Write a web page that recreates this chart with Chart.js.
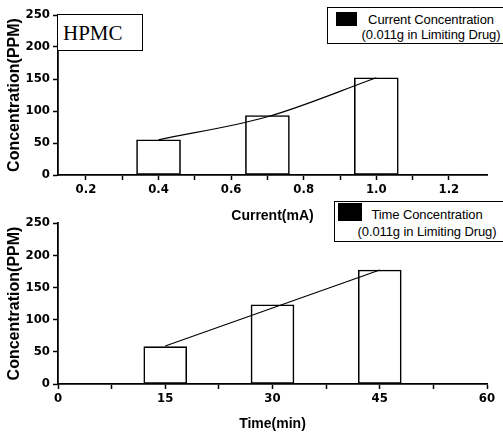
<!DOCTYPE html>
<html>
<head>
<meta charset="utf-8">
<script src="https://cdn.jsdelivr.net/npm/chart.js@4.4.1/dist/chart.umd.min.js"></script>
<style>
  html, body { margin: 0; padding: 0; background: #fff; overflow: hidden; }
  #wrap { position: relative; width: 503px; height: 434px; overflow: hidden; }
  canvas { position: absolute; left: 0; }
  #topChart { top: 0; }
  #bottomChart { top: 195px; }
  .box { position: absolute; border: 1.5px solid #000; background: #fff; color: #000; z-index: 2; }
  .legend { font-family: 'Liberation Sans', Arial, sans-serif; font-size: 13px; letter-spacing: -0.1px; }
  .legend .swatch { position: absolute; background: #000; }
  .legend .txt { position: absolute; text-align: center; white-space: nowrap; }
  #hpmc { left: 57px; top: 14px; width: 79px; height: 35px; font-family: 'Liberation Serif', 'Times New Roman', serif; font-size: 21px; line-height: 36px; padding-left: 5px; box-sizing: content-box; }
</style>
</head>
<body>
<div id="wrap">
  <canvas id="topChart" width="503" height="230"></canvas>
  <canvas id="bottomChart" width="503" height="239"></canvas>

  <div class="box" id="hpmc">HPMC</div>

  <div class="box legend" style="left:327px; top:7px; width:190px; height:35px;">
    <div class="swatch" style="left:8px; top:4px; width:21px; height:14px;"></div>
    <div class="txt" style="left:21px; width:164px; top:4px; line-height:15px;">Current Concentration<br>(0.011g in Limiting Drug)</div>
  </div>

  <div class="box legend" style="left:334px; top:201px; width:190px; height:39px;">
    <div class="swatch" style="left:3px; top:1px; width:24px; height:18px;"></div>
    <div class="txt" style="left:10px; width:164px; top:5px; line-height:16.5px;">Time Concentration<br>(0.011g in Limiting Drug)</div>
  </div>
</div>

<script>
// values
var currentMA = [0.4, 0.7, 1.0];
var currentConc = [55, 93, 152];
var currentFit = [55, 91, 152];

var timeMin = [15, 30, 45];
var timeConc = [58, 123, 177];
var timeFit = [59, 118, 177];

// tick labels
var currentTicks = [0.2, 0.4, 0.6, 0.8, 1.0, 1.2];
var currentMinor = [0.3, 0.5, 0.7, 0.9, 1.1];
var timeTicks = [0, 15, 30, 45, 60];
var timeMinor = [7.5, 22.5, 37.5, 52.5];
var concTicks = [0, 50, 100, 150, 200, 250];
var concMinor = [25, 75, 125, 175, 225];

var tickFont = { family: "'Liberation Sans Narrow', 'Arial Narrow', 'DejaVu Sans Condensed', sans-serif", size: 13, weight: 'bold' };
var titleFont = { family: "'Liberation Sans', Arial, sans-serif", weight: 'bold' };

function isMajor(list, v) {
    return list.some(function (m) { return Math.abs(m - v) < 1e-9; });
}

function points(xs, ys) {
    return xs.map(function (x, i) { return { x: x, y: ys[i] }; });
}

function makeChart(id, cfg) {
    var ctx = document.getElementById(id).getContext('2d');
    return new Chart(ctx, {
        type: 'bar',
        data: {
            datasets: [{
                type: 'line',
                data: points(cfg.xs, cfg.fit),
                borderColor: '#000',
                borderWidth: 1.2,
                pointRadius: 0,
                fill: false,
                tension: cfg.curved ? 0.4 : 0,
                cubicInterpolationMode: cfg.curved ? 'monotone' : 'default',
                order: 1
            }, {
                type: 'bar',
                data: points(cfg.xs, cfg.ys),
                backgroundColor: '#fff',
                borderColor: '#000',
                borderWidth: 1.6,
                borderSkipped: false,
                barThickness: cfg.barWidth,
                order: 2
            }]
        },
        options: {
            responsive: false,
            animation: false,
            layout: { padding: { top: cfg.padTop, right: 16, bottom: 0, left: 0 } },
            plugins: { legend: { display: false }, tooltip: { enabled: false } },
            scales: {
                x: {
                    type: 'linear',
                    min: cfg.xMin,
                    max: cfg.xMax,
                    offset: false,
                    grid: { drawOnChartArea: false, drawTicks: true, tickLength: 5, tickColor: '#000', tickWidth: 1.5, offset: false },
                    border: { display: true, color: '#000', width: 1.8 },
                    ticks: {
                        color: '#000', font: tickFont, padding: 2, autoSkip: false, maxRotation: 0,
                        callback: function (v) { return isMajor(cfg.xTicks, v) ? cfg.fmt(v) : ''; }
                    },
                    afterBuildTicks: function (s) {
                        s.ticks = cfg.xTicks.concat(cfg.xMinor).sort(function (a, b) { return a - b; })
                            .map(function (v) { return { value: v }; });
                    },
                    afterFit: function (s) { s.height = cfg.xHeight; },
                    title: {
                        display: true, text: cfg.xTitle, color: '#000',
                        font: Object.assign({ size: 14 }, titleFont),
                        padding: { top: 0, bottom: cfg.xTitlePad }
                    }
                },
                y: {
                    min: 0,
                    max: 250,
                    grid: { drawOnChartArea: false, drawTicks: true, tickLength: 5, tickColor: '#000', tickWidth: 1.5 },
                    border: { display: true, color: '#000', width: 1.8 },
                    ticks: {
                        color: '#000', font: tickFont, padding: 3,
                        callback: function (v) { return isMajor(concTicks, v) ? v : ''; }
                    },
                    afterBuildTicks: function (s) {
                        s.ticks = concTicks.concat(concMinor).sort(function (a, b) { return a - b; })
                            .map(function (v) { return { value: v }; });
                    },
                    afterFit: function (s) { s.width = 58; },
                    title: {
                        display: true, text: 'Concentration(PPM)', color: '#000',
                        font: Object.assign({ size: 16 }, titleFont),
                        padding: { top: 5, bottom: 0 }
                    }
                }
            }
        }
    });
}

makeChart('topChart', {
    xs: currentMA, ys: currentConc, fit: currentFit, curved: true,
    xMin: 0.123, xMax: 1.305, xTicks: currentTicks, xMinor: currentMinor,
    fmt: function (v) { return v.toFixed(1); },
    barWidth: 44, padTop: 15, xHeight: 55, xTitlePad: 5, xTitle: 'Current(mA)'
});

makeChart('bottomChart', {
    xs: timeMin, ys: timeConc, fit: timeFit, curved: false,
    xMin: 0, xMax: 60, xTicks: timeTicks, xMinor: timeMinor,
    fmt: function (v) { return String(v); },
    barWidth: 43, padTop: 28, xHeight: 50, xTitlePad: 1, xTitle: 'Time(min)'
});
</script>
</body>
</html>
